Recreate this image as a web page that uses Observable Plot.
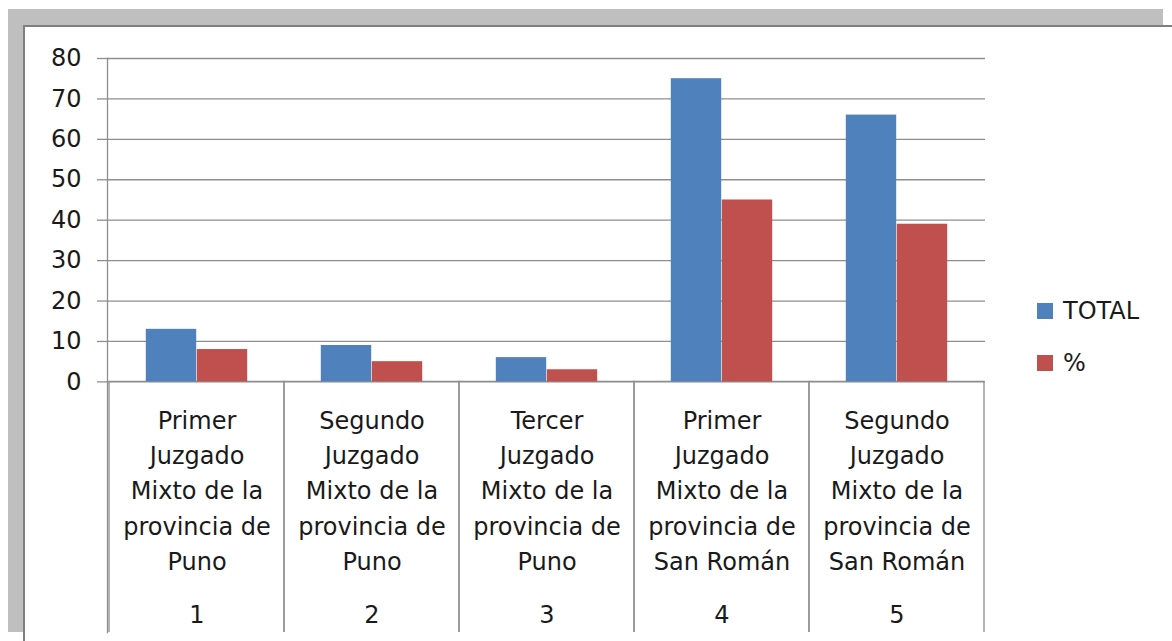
<!DOCTYPE html>
<html>
<head>
<meta charset="utf-8">
<script src="https://cdn.jsdelivr.net/npm/d3@7"></script>
<script src="https://cdn.jsdelivr.net/npm/@observablehq/plot@0.6"></script>
<style>
  html, body { margin: 0; padding: 0; background: #fff; width: 1172px; height: 641px; overflow: hidden;
    font-family: "DejaVu Sans", sans-serif; color: #1a1a1a; }
  #shadow { position: absolute; left: 8px; top: 9px; width: 1155px; height: 623px; background: #bfbfbf; }
  #card { position: absolute; left: 23px; top: 25px; width: 1149px; height: 616px; background: #fff;
    border-left: 2px solid #7f7f7f; border-top: 2px solid #7f7f7f; }
  #chart { position: absolute; left: 0; top: 0; }
  .leg { position: absolute; left: 1037px; height: 24px; display: flex; align-items: center; font-size: 24px; line-height: 24px; }
  .sw { width: 16px; height: 16px; margin-right: 10px; }
</style>
</head>
<body>
<div id="shadow"></div>
<div id="card"></div>
<div id="chart"></div>
<div id="legend"></div>
<script>
// ---- data ----
const categories = [
  "Primer\nJuzgado\nMixto de la\nprovincia de\nPuno",
  "Segundo\nJuzgado\nMixto de la\nprovincia de\nPuno",
  "Tercer\nJuzgado\nMixto de la\nprovincia de\nPuno",
  "Primer\nJuzgado\nMixto de la\nprovincia de\nSan Román",
  "Segundo\nJuzgado\nMixto de la\nprovincia de\nSan Román"
];
const ids = ["1", "2", "3", "4", "5"];
const total = [13, 9, 6, 75, 66];
const pct = [8, 5, 3, 45, 39];
const seriesNames = ["TOTAL", "%"];
const seriesColors = ["#4f81bd", "#c0504d"];
const yTicks = [0, 10, 20, 30, 40, 50, 60, 70, 80];

// ---- layout ----
const W = 1172, H = 641;
const mL = 107, mR = 187, mT = 58, mB = 9;
const yMin = -62, yMax = 80;
const band = (W - mL - mR) / categories.length;
const half = band / 2, bw = 51;
const grid = "#8e8e8e";
const ink = "#1a1a1a";

const rows = categories.map((c, i) => ({cat: c, id: ids[i], total: total[i], pct: pct[i]}));

const chart = Plot.plot({
  width: W, height: H,
  marginLeft: mL, marginRight: mR, marginTop: mT, marginBottom: mB,
  style: {background: "transparent", fontFamily: "DejaVu Sans, sans-serif", color: ink},
  x: {type: "band", domain: categories, padding: 0, axis: null},
  y: {domain: [yMin, yMax], axis: null},
  marks: [
    Plot.gridY(yTicks, {stroke: grid, strokeOpacity: 1, strokeWidth: 1.3}),
    Plot.barY(rows, {x: "cat", y1: 0, y2: yMin - 3, fill: "none", stroke: grid, strokeWidth: 1.3, clip: true}),
    Plot.frame({anchor: "left", stroke: grid, strokeWidth: 1.3}),
    Plot.barY(rows, {x: "cat", y: "total", fill: seriesColors[0], insetLeft: half - bw, insetRight: half}),
    Plot.barY(rows, {x: "cat", y: "pct", fill: seriesColors[1], insetLeft: half, insetRight: half - bw}),
    Plot.axisY({ticks: yTicks, tickSize: 10, tickPadding: 16, fontSize: 24, label: null, stroke: grid, strokeWidth: 1.3, fill: ink}),
    Plot.text(rows, {x: "cat", y: -26.3, text: "cat", fontSize: 24, lineHeight: 1.47, fill: ink}),
    Plot.text(rows, {x: "cat", y: -57.8, text: "id", fontSize: 24, fill: ink})
  ]
});
document.getElementById("chart").appendChild(chart);

// ---- legend ----
const legend = document.getElementById("legend");
const legTops = [298.5, 351];
seriesNames.forEach((name, i) => {
  const row = document.createElement("div");
  row.className = "leg";
  row.style.top = legTops[i] + "px";
  const sw = document.createElement("div");
  sw.className = "sw";
  sw.style.background = seriesColors[i];
  const t = document.createElement("span");
  t.textContent = name;
  row.appendChild(sw);
  row.appendChild(t);
  legend.appendChild(row);
});
</script>
</body>
</html>
